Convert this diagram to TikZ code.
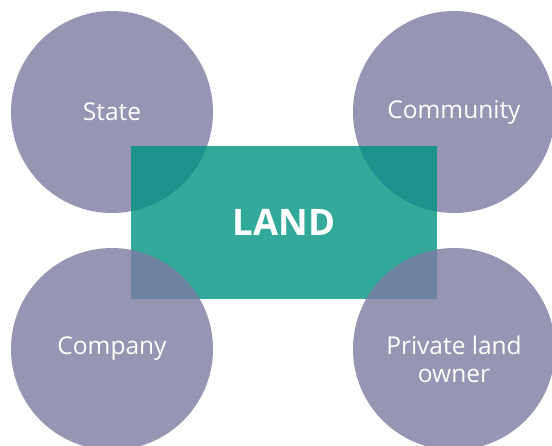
\documentclass[tikz,border=0pt]{standalone}
\usepackage{fontspec}
\setmainfont{Open Sans}
\definecolor{blobcol}{RGB}{125,122,161}
\definecolor{landcol}{RGB}{0,147,131}
\tikzset{
    blob/.style={circle, minimum size=202pt, inner sep=0pt, fill=blobcol, fill opacity=0.8, text opacity=1, text=white, font=\fontsize{24.5}{28}\selectfont, align=center},
    landbox/.style={rectangle, minimum width=306pt, minimum height=153pt, inner sep=0pt, fill=landcol, fill opacity=0.8, text opacity=1, text=white, font=\fontsize{36.5}{40}\selectfont\bfseries}
}
\begin{document}
\begin{tikzpicture}[x=1pt, y=-1pt]

    % Page frame
    \useasboundingbox (0,0) rectangle (552,445);

    % Upper circles (below the box)
    \node[blob] (state) at (112,112) {State};
    \node[blob] (community) at (454,112) {Community};

    % Central box
    \node[landbox] (land) at (284,222.5) {LAND};

    % Lower circles (over the box)
    \node[blob] (company) at (112,349) {Company};
    \node[blob] (owner) at (454,349) {};
    \node[text=white, font=\fontsize{24.5}{28}\selectfont, align=center] (ownertext) at ([yshift=-10pt]owner.center) {Private land\\owner};

\end{tikzpicture}
\end{document}
